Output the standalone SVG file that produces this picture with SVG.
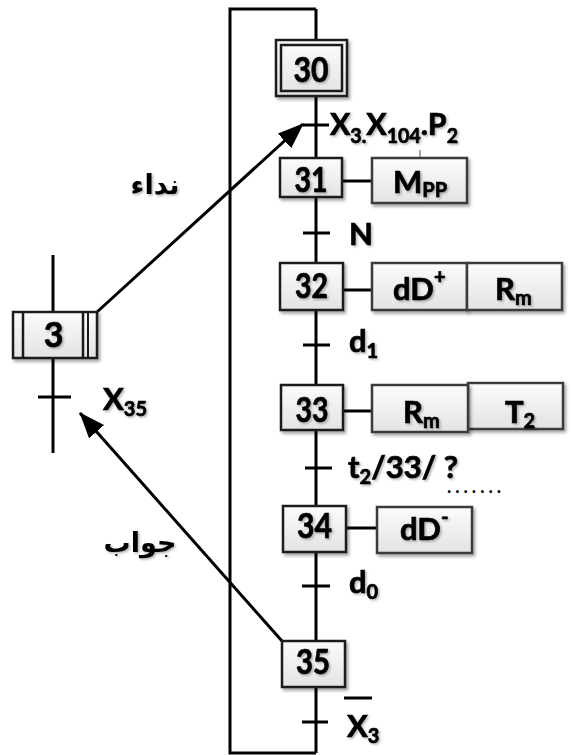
<svg xmlns="http://www.w3.org/2000/svg" width="576" height="755" viewBox="0 0 576 755">
<defs>
<linearGradient id="g" x1="0" y1="0" x2="0" y2="1"><stop offset="0" stop-color="#fcfcfc"/><stop offset="1" stop-color="#e3e3e3"/></linearGradient>
<filter id="sh" x="-10%" y="-10%" width="130%" height="140%"><feDropShadow dx="2" dy="2.5" stdDeviation="1.5" flood-color="#000" flood-opacity="0.35"/></filter>
<filter id="tsh" x="-10%" y="-20%" width="130%" height="150%"><feDropShadow dx="1.5" dy="1.5" stdDeviation="1" flood-color="#000" flood-opacity="0.3"/></filter>
<marker id="ah" markerUnits="userSpaceOnUse" markerWidth="26" markerHeight="20" viewBox="0 0 26 20" refX="25" refY="10" orient="auto"><path d="M0,0 L26,10 L0,20 z" fill="#000"/></marker>
</defs>
<style>
.step{fill:url(#g);stroke:#1a1a1a;stroke-width:2.5;filter:url(#sh)}
.act{fill:url(#g);stroke:#3a3a3a;stroke-width:2.5;filter:url(#sh)}
.ln{stroke:#000;stroke-width:3;fill:none}
.tk{stroke:#000;stroke-width:3}
.thin{stroke:#555;stroke-width:1}
.t{font-family:Lato,"Liberation Sans",sans-serif;font-weight:bold;fill:#000;stroke:#000;stroke-width:0.7;filter:url(#tsh)}
.num{font-size:34px;text-anchor:middle}
.lab{font-size:31px}
.sub{font-size:20px}
.dots{font-family:Lato,"Liberation Sans",sans-serif;font-weight:bold;font-size:18px;fill:#000}
.ar{font-family:"DejaVu Sans",sans-serif;font-weight:bold;font-size:27px;text-anchor:middle;fill:#000;filter:url(#tsh)}
</style>

<g id="connectors">
<path class="ln" d="M316,9 H230 V753 H316"/>
<line class="ln" x1="316" y1="9" x2="316" y2="753"/>
<line class="ln" x1="53" y1="255" x2="53" y2="453"/>
<line class="tk" x1="303" y1="125" x2="329" y2="125"/>
<line class="tk" x1="303" y1="233" x2="330" y2="233"/>
<line class="tk" x1="303" y1="345" x2="330" y2="345"/>
<line class="tk" x1="305" y1="468" x2="332" y2="468"/>
<line class="tk" x1="302" y1="586" x2="330" y2="586"/>
<line class="tk" x1="302" y1="722" x2="328" y2="722"/>
<line class="tk" x1="38" y1="397" x2="71" y2="397"/>
<line class="ln" x1="97" y1="312" x2="303" y2="124" marker-end="url(#ah)"/>
<line class="ln" x1="282" y1="641" x2="80" y2="413" marker-end="url(#ah)"/>
<line class="thin" x1="420" y1="150" x2="420" y2="158"/>
</g>

<g id="transition-labels">
<text class="t lab" x="330" y="135" textLength="128" lengthAdjust="spacingAndGlyphs">X<tspan class="sub" dy="8">3.</tspan><tspan dy="-8">X</tspan><tspan class="sub" dy="8">104</tspan><tspan dy="-8">.P</tspan><tspan class="sub" dy="8">2</tspan></text>
<text class="t lab" x="349" y="245">N</text>
<text class="t lab" x="349" y="352">d<tspan class="sub" dy="6">1</tspan></text>
<text class="t lab" x="348" y="478" textLength="110" lengthAdjust="spacingAndGlyphs">t<tspan class="sub" dy="6">2</tspan><tspan dy="-6">/33/ ?</tspan></text>
<text class="dots" x="447" y="493" textLength="54" lengthAdjust="spacing">.......</text>
<text class="t lab" x="349" y="593">d<tspan class="sub" dy="6">0</tspan></text>
<text class="t lab" x="347" y="737">X<tspan class="sub" dy="6">3</tspan></text>
<line class="tk" x1="344" y1="698" x2="372" y2="698"/>
<text class="t lab" x="103" y="410">X<tspan class="sub" dy="6">35</tspan></text>
<text class="ar" x="155" y="194">نداء</text>
<text class="ar" x="140" y="552">جواب</text>
</g>

<g id="step30">
<rect class="step" x="276" y="40" width="71" height="56"/>
<rect x="281" y="45" width="61" height="46" fill="none" stroke="#1a1a1a" stroke-width="2.5"/>
<text class="t num" x="311" y="82" textLength="35" lengthAdjust="spacingAndGlyphs">30</text>
</g>

<g id="step31">
<line class="ln" x1="342" y1="181" x2="372" y2="181"/>
<rect class="step" x="280" y="158" width="62" height="39"/>
<text class="t num" x="311" y="192" textLength="33" lengthAdjust="spacingAndGlyphs">31</text>
<rect class="act" x="372" y="158" width="95" height="45"/>
<text class="t lab" x="393" y="193">M<tspan class="sub" dy="4">PP</tspan></text>
</g>

<g id="step32">
<line class="ln" x1="343" y1="290" x2="372" y2="290"/>
<rect class="step" x="280" y="263" width="63" height="47"/>
<text class="t num" x="311.5" y="298" textLength="33" lengthAdjust="spacingAndGlyphs">32</text>
<rect class="act" x="372" y="263" width="95" height="47"/>
<rect class="act" x="467" y="263" width="95" height="47"/>
<text class="t lab" x="393" y="300">dD<tspan class="sub" dy="-16">+</tspan></text>
<text class="t lab" x="495" y="300">R<tspan class="sub" dy="5">m</tspan></text>
</g>

<g id="step33">
<line class="ln" x1="343" y1="411" x2="372" y2="411"/>
<rect class="step" x="281" y="385" width="62" height="45"/>
<text class="t num" x="312" y="422" textLength="33" lengthAdjust="spacingAndGlyphs">33</text>
<rect class="act" x="468" y="383" width="95" height="46"/>
<rect class="act" x="372" y="385" width="96" height="47"/>
<text class="t lab" x="403" y="423">R<tspan class="sub" dy="5">m</tspan></text>
<text class="t lab" x="505" y="423">T<tspan class="sub" dy="5">2</tspan></text>
</g>

<g id="step34">
<line class="ln" x1="346" y1="528" x2="377" y2="528"/>
<rect class="step" x="283" y="506" width="63" height="46"/>
<text class="t num" x="314.5" y="538" textLength="35" lengthAdjust="spacingAndGlyphs">34</text>
<rect class="act" x="377" y="507" width="95" height="46"/>
<text class="t lab" x="400" y="540">dD<tspan class="sub" dy="-16">-</tspan></text>
</g>

<g id="step35">
<rect class="step" x="282" y="641" width="63" height="46"/>
<text class="t num" x="313" y="674" textLength="34" lengthAdjust="spacingAndGlyphs">35</text>
</g>

<g id="step3">
<rect class="step" x="13" y="312" width="84" height="46"/>
<line x1="23" y1="312" x2="23" y2="358" stroke="#1a1a1a" stroke-width="2.5"/>
<line x1="83" y1="312" x2="83" y2="358" stroke="#1a1a1a" stroke-width="2.5"/>
<line x1="88" y1="312" x2="88" y2="358" stroke="#1a1a1a" stroke-width="2"/>
<text class="t num" x="53.5" y="347">3</text>
</g>
</svg>
